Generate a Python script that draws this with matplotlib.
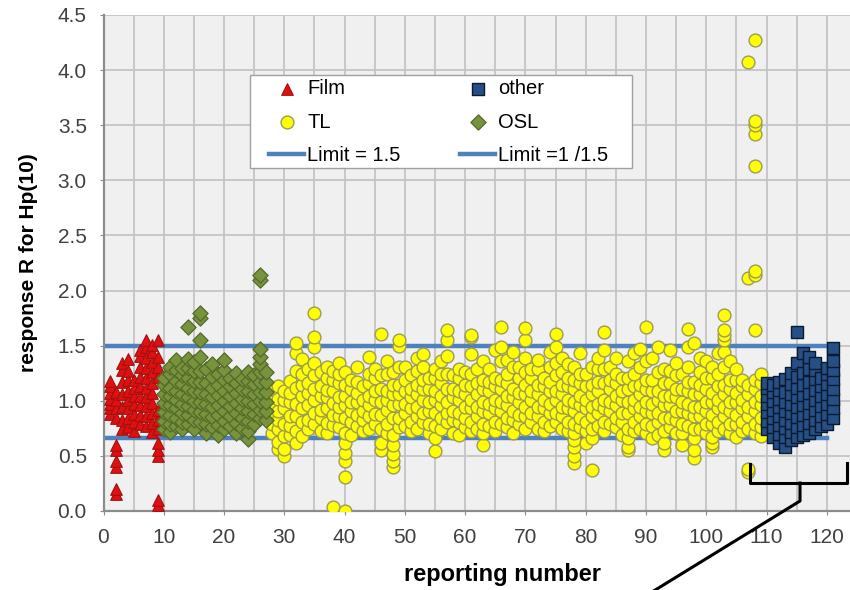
import matplotlib.pyplot as plt
from matplotlib.lines import Line2D
from matplotlib.patches import Rectangle

# response values per reporting number, grouped by dosemeter type
film = {
    1: [0.88, 0.93, 0.97, 1.02, 1.07, 1.13, 1.18],
    2: [0.15, 0.2, 0.4, 0.45, 0.55, 0.6, 0.84, 0.93, 1.01, 1.08],
    3: [0.74, 0.83, 0.94, 1.06, 1.17, 1.28, 1.34],
    4: [0.76, 0.84, 0.93, 1.01, 1.09, 1.19, 1.27, 1.38],
    5: [0.73, 0.81, 0.88, 0.97, 1.04, 1.12, 1.19],
    6: [0.79, 0.87, 0.96, 1.04, 1.13, 1.22, 1.31, 1.41, 1.46],
    7: [0.77, 0.86, 0.95, 1.03, 1.12, 1.21, 1.3, 1.39, 1.49, 1.55],
    8: [0.72, 0.8, 0.89, 0.98, 1.07, 1.16, 1.26, 1.35, 1.44, 1.51],
    9: [0.0, 0.05, 0.1, 0.5, 0.55, 0.62, 0.74, 0.83, 0.92, 1.22, 1.31, 1.4, 1.55],
}

osl = {
    10: [0.74, 0.82, 0.9, 0.98, 1.06, 1.14, 1.21],
    11: [0.72, 0.79, 0.87, 0.96, 1.04, 1.12, 1.24, 1.31],
    12: [0.77, 0.84, 0.93, 1.01, 1.09, 1.18, 1.28, 1.37],
    13: [0.74, 0.81, 0.89, 0.97, 1.06, 1.15, 1.23, 1.3],
    14: [0.79, 0.87, 0.95, 1.03, 1.12, 1.21, 1.3, 1.38, 1.67],
    15: [0.74, 0.83, 0.92, 1.0, 1.09, 1.18, 1.27, 1.35],
    16: [0.81, 0.9, 0.99, 1.08, 1.17, 1.27, 1.4, 1.55, 1.75, 1.8],
    17: [0.71, 0.79, 0.88, 0.97, 1.06, 1.16, 1.29],
    18: [0.76, 0.85, 0.94, 1.03, 1.12, 1.22, 1.33],
    19: [0.69, 0.78, 0.87, 0.96, 1.05, 1.14, 1.24],
    20: [0.74, 0.82, 0.91, 1.0, 1.09, 1.19, 1.28, 1.37],
    21: [0.77, 0.86, 0.95, 1.04, 1.13, 1.21],
    22: [0.71, 0.8, 0.89, 0.98, 1.07, 1.16, 1.25],
    23: [0.75, 0.84, 0.93, 1.02, 1.11, 1.2],
    24: [0.65, 0.73, 0.82, 0.91, 1.0, 1.09, 1.18, 1.26],
    25: [0.79, 0.88, 0.97, 1.06, 1.15, 1.23],
    26: [0.84, 0.92, 1.0, 1.08, 1.17, 1.26, 1.33, 1.4, 1.47, 2.1, 2.14],
    27: [0.83, 0.91, 0.99, 1.08, 1.17, 1.26],
}

tl = {
    28: [0.71, 0.79, 0.88, 0.97, 1.06, 1.11],
    29: [0.56, 0.63, 0.74, 0.83, 0.91, 1.02, 1.13],
    30: [0.5, 0.56, 0.68, 0.79, 0.93, 1.01, 1.09],
    31: [0.69, 0.77, 0.86, 0.99, 1.07, 1.18],
    32: [0.62, 0.73, 0.86, 0.97, 1.12, 1.27, 1.43, 1.52],
    33: [0.68, 0.81, 0.93, 1.04, 1.14, 1.24, 1.38],
    34: [0.74, 0.83, 0.96, 1.07, 1.16, 1.29],
    35: [0.79, 0.89, 1.01, 1.11, 1.23, 1.34, 1.49, 1.58, 1.8],
    36: [0.73, 0.84, 0.92, 1.04, 1.13, 1.26],
    37: [0.71, 0.8, 0.93, 1.03, 1.1, 1.21, 1.31],
    38: [0.04, 0.78, 0.87, 0.98, 1.09, 1.19, 1.27],
    39: [0.76, 0.86, 0.94, 1.03, 1.16, 1.24, 1.34],
    40: [0.0, 0.31, 0.45, 0.53, 0.62, 0.71, 0.84, 0.96, 1.04, 1.14, 1.26],
    41: [0.69, 0.81, 0.91, 0.99, 1.11, 1.19],
    42: [0.77, 0.87, 0.99, 1.07, 1.17, 1.31],
    43: [0.73, 0.83, 0.91, 1.01, 1.13],
    44: [0.74, 0.86, 0.96, 1.04, 1.16, 1.24, 1.4],
    45: [0.79, 0.88, 1.01, 1.09, 1.21, 1.29],
    46: [0.55, 0.62, 0.74, 0.87, 0.99, 1.11, 1.23, 1.61],
    47: [0.71, 0.79, 0.92, 1.01, 1.09, 1.24, 1.36],
    48: [0.4, 0.45, 0.52, 0.6, 0.69, 0.84, 0.96, 1.06, 1.14, 1.26],
    49: [0.76, 0.84, 0.97, 1.06, 1.14, 1.31, 1.5, 1.55],
    50: [0.77, 0.89, 0.97, 1.09, 1.19, 1.31],
    51: [0.73, 0.81, 0.93, 1.03, 1.11, 1.23],
    52: [0.74, 0.86, 0.94, 1.06, 1.14, 1.27, 1.39],
    53: [0.81, 0.89, 1.01, 1.11, 1.19, 1.31, 1.42],
    54: [0.71, 0.79, 0.91, 0.99, 1.11, 1.21],
    55: [0.54, 0.66, 0.77, 0.89, 1.01, 1.09, 1.21, 1.29],
    56: [0.74, 0.84, 0.96, 1.04, 1.16, 1.24, 1.36],
    57: [0.81, 0.89, 0.99, 1.11, 1.24, 1.41, 1.55, 1.64],
    58: [0.71, 0.83, 0.91, 1.03, 1.11, 1.23],
    59: [0.69, 0.81, 0.89, 1.01, 1.09, 1.21, 1.29],
    60: [0.76, 0.84, 0.94, 1.06, 1.14, 1.26],
    61: [0.73, 0.81, 0.93, 1.01, 1.13, 1.24, 1.42, 1.58, 1.6],
    62: [0.74, 0.86, 0.94, 1.06, 1.16, 1.29],
    63: [0.6, 0.71, 0.79, 0.91, 0.99, 1.11, 1.19, 1.36],
    64: [0.77, 0.89, 0.97, 1.09, 1.17, 1.29],
    65: [0.73, 0.81, 0.93, 1.01, 1.13, 1.21, 1.46],
    66: [0.79, 0.91, 0.99, 1.11, 1.19, 1.36, 1.49, 1.67],
    67: [0.76, 0.84, 0.96, 1.04, 1.16, 1.24, 1.37],
    68: [0.71, 0.83, 0.91, 1.03, 1.11, 1.31, 1.44],
    69: [0.79, 0.87, 0.99, 1.07, 1.21, 1.31],
    70: [0.74, 0.86, 0.94, 1.06, 1.14, 1.26, 1.39, 1.55, 1.66],
    71: [0.81, 0.89, 1.01, 1.09, 1.21, 1.29],
    72: [0.74, 0.86, 0.94, 1.06, 1.14, 1.29, 1.37],
    73: [0.73, 0.81, 0.93, 1.01, 1.13, 1.21],
    74: [0.77, 0.89, 0.97, 1.09, 1.17, 1.31, 1.44],
    75: [0.81, 0.89, 1.01, 1.09, 1.23, 1.34, 1.49, 1.61],
    76: [0.74, 0.86, 0.94, 1.06, 1.14, 1.26, 1.39],
    77: [0.73, 0.81, 0.93, 1.01, 1.13, 1.21, 1.33],
    78: [0.44, 0.5, 0.58, 0.64, 0.71, 0.79, 0.91, 0.99, 1.11, 1.19, 1.31],
    79: [0.76, 0.84, 0.96, 1.04, 1.16, 1.24, 1.43],
    80: [0.62, 0.73, 0.81, 0.93, 1.01, 1.13, 1.24],
    81: [0.37, 0.66, 0.74, 0.86, 0.94, 1.06, 1.14, 1.31],
    82: [0.77, 0.89, 0.97, 1.09, 1.17, 1.29, 1.39],
    83: [0.73, 0.81, 0.93, 1.01, 1.16, 1.29, 1.46, 1.62],
    84: [0.79, 0.91, 0.99, 1.11, 1.19, 1.31],
    85: [0.76, 0.84, 0.96, 1.04, 1.16, 1.24, 1.39],
    86: [0.69, 0.81, 0.89, 1.01, 1.09, 1.21],
    87: [0.55, 0.58, 0.66, 0.74, 0.89, 0.99, 1.11, 1.21, 1.36],
    88: [0.73, 0.81, 0.93, 1.01, 1.13, 1.24, 1.43],
    89: [0.74, 0.86, 0.94, 1.06, 1.14, 1.31, 1.47],
    90: [0.71, 0.79, 0.91, 0.99, 1.11, 1.19, 1.36, 1.67],
    91: [0.66, 0.77, 0.89, 0.97, 1.09, 1.19, 1.39],
    92: [0.69, 0.81, 0.89, 1.01, 1.09, 1.26, 1.49],
    93: [0.55, 0.62, 0.73, 0.84, 0.96, 1.04, 1.16, 1.29],
    94: [0.76, 0.84, 0.96, 1.04, 1.16, 1.27, 1.46],
    95: [0.71, 0.83, 0.91, 1.03, 1.11, 1.23, 1.34],
    96: [0.6, 0.71, 0.79, 0.91, 0.99, 1.11, 1.24],
    97: [0.77, 0.89, 0.97, 1.09, 1.17, 1.31, 1.49, 1.65],
    98: [0.48, 0.55, 0.66, 0.74, 0.86, 0.94, 1.06, 1.17, 1.52],
    99: [0.74, 0.86, 0.94, 1.06, 1.14, 1.26, 1.39],
    100: [0.71, 0.79, 0.91, 0.99, 1.11, 1.21, 1.36],
    101: [0.58, 0.62, 0.67, 0.79, 0.87, 0.99, 1.07, 1.21, 1.31],
    102: [0.73, 0.81, 0.93, 1.01, 1.13, 1.24, 1.43],
    103: [0.74, 0.86, 0.94, 1.06, 1.14, 1.31, 1.44, 1.55, 1.6, 1.64, 1.78],
    104: [0.71, 0.79, 0.91, 0.99, 1.11, 1.19, 1.36],
    105: [0.67, 0.79, 0.87, 0.99, 1.07, 1.19, 1.29],
    106: [0.73, 0.81, 0.93, 1.01, 1.13, 1.19],
    107: [0.35, 0.38, 0.74, 0.86, 0.94, 1.06, 1.14, 2.11, 4.07],
    108: [0.71, 0.79, 0.91, 0.99, 1.11, 1.19, 1.64, 2.14, 2.18, 3.13, 3.42, 3.5, 3.54, 4.27],
    109: [0.68, 0.76, 0.84, 0.96, 1.04, 1.16, 1.24],
}

other = {
    110: [0.74, 0.82, 0.9, 0.97, 1.04, 1.12, 1.16],
    111: [0.67, 0.76, 0.84, 0.92, 1.0, 1.08, 1.14],
    112: [0.62, 0.7, 0.78, 0.86, 0.94, 1.02, 1.1, 1.17],
    113: [0.58, 0.67, 0.75, 0.83, 0.91, 0.99, 1.08, 1.2],
    114: [0.64, 0.72, 0.8, 0.89, 0.97, 1.06, 1.15, 1.25],
    115: [0.67, 0.76, 0.85, 0.94, 1.03, 1.12, 1.22, 1.34, 1.62],
    116: [0.69, 0.78, 0.87, 0.96, 1.05, 1.14, 1.25, 1.43],
    117: [0.71, 0.8, 0.89, 0.98, 1.07, 1.17, 1.29, 1.4],
    118: [0.74, 0.83, 0.92, 1.01, 1.1, 1.2, 1.28, 1.34],
    119: [0.77, 0.86, 0.95, 1.04, 1.13, 1.21],
    120: [0.79, 0.88, 0.97, 1.06, 1.15, 1.24, 1.3],
    121: [0.84, 0.93, 1.02, 1.11, 1.2, 1.28, 1.36, 1.48],
}

upper_limit = 1.5
lower_limit = 1 / 1.5
limit_x = [0, 120]


def flat(groups):
    xs = [k for k, v in groups.items() for _ in v]
    ys = [y for v in groups.values() for y in v]
    return xs, ys


def px(xp, yp):
    # pixel position -> figure fraction
    return xp / 850, 1 - yp / 590


plt.rcParams['font.family'] = ['Liberation Sans', 'DejaVu Sans']

fig = plt.figure(figsize=(8.5, 5.9), dpi=100)
# plot area runs a little past the right edge of the figure
ax = fig.add_axes([103.5 / 850, 1 - 511 / 590, (857 - 103.5) / 850, (511 - 15) / 590])
ax.set_facecolor('#f0f0f0')

ax.plot(limit_x, [upper_limit] * 2, color='#4f81bd', lw=3.2, zorder=2, label='Limit = 1.5')
ax.plot(limit_x, [lower_limit] * 2, color='#4f81bd', lw=3.2, zorder=2, label='Limit =1 /1.5')

x, y = flat(film)
ax.scatter(x, y, marker='^', s=70, c='#e01010', edgecolors='#a01010', linewidths=0.8, zorder=3, label='Film')
x, y = flat(tl)
ax.scatter(x, y, marker='o', s=85, c='#ffff00', edgecolors='#9c9a5a', linewidths=1.0, zorder=3, label='TL')
x, y = flat(osl)
ax.scatter(x, y, marker='D', s=60, c='#77933c', edgecolors='#55692a', linewidths=0.9, zorder=3, label='OSL')
x, y = flat(other)
ax.scatter(x, y, marker='s', s=80, c='#254f85', edgecolors='#0a1a30', linewidths=1.0, zorder=3, label='other')

ax.set_xlim(0, 125)
ax.set_ylim(0, 4.5)
ax.set_xticks(range(0, 121, 10))
ax.set_xticks(range(0, 126, 5), minor=True)
ax.set_yticks([i * 0.5 for i in range(10)])
ax.set_yticklabels(['%.1f' % (i * 0.5) for i in range(10)])
ax.grid(True, which='both', color='#c4c4c4', lw=1.3, zorder=0)
ax.set_axisbelow(True)

for s in ['top', 'right']:
    ax.spines[s].set_visible(False)
for s in ['left', 'bottom']:
    ax.spines[s].set_color('#8c8c8c')
    ax.spines[s].set_linewidth(1.6)
ax.tick_params(axis='both', which='major', length=3, pad=9, color='#8c8c8c', labelsize=15, labelcolor='#404040')
ax.tick_params(axis='both', which='minor', length=0)

ax.set_xlabel('reporting number', fontsize=17, fontweight='bold')
ax.xaxis.set_label_coords((502 - 103.5) / (857 - 103.5), -0.105)
ax.set_ylabel('response R for Hp(10)', fontsize=15, fontweight='bold')
ax.yaxis.set_label_coords(-0.087, 0.5)

# legend box drawn separately so the entries can sit inset from its edge
x0, y0 = px(250, 168)
x1, y1 = px(632, 75)
ax.add_patch(Rectangle((x0, y0), x1 - x0, y1 - y0, transform=fig.transFigure,
                       facecolor='white', edgecolor='#a0a0a0', lw=1.0, zorder=4, clip_on=False))

h, l = ax.get_legend_handles_labels()
order = [l.index(n) for n in ['Film', 'TL', 'Limit = 1.5', 'other', 'OSL', 'Limit =1 /1.5']]
leg = ax.legend([h[i] for i in order], [l[i] for i in order], ncol=2, loc='upper left',
                bbox_to_anchor=px(269, 79), bbox_transform=fig.transFigure,
                borderaxespad=0, borderpad=0, fontsize=14.5, frameon=False,
                handlelength=1.75, handletextpad=0.15, columnspacing=2.95, labelspacing=0.72)
leg.set_zorder(5)

# bracket marking the last group of participants, with a pointer line
bracket = [px(750, 464), px(750, 483), px(847, 483), px(847, 463)]
fig.add_artist(Line2D([p[0] for p in bracket], [p[1] for p in bracket],
                      color='black', lw=2.2, transform=fig.transFigure))
pointer = [px(800, 483), px(800, 501), px(652, 592)]
fig.add_artist(Line2D([p[0] for p in pointer], [p[1] for p in pointer],
                      color='black', lw=2.2, transform=fig.transFigure))

fig.savefig('out.png', dpi=100)
